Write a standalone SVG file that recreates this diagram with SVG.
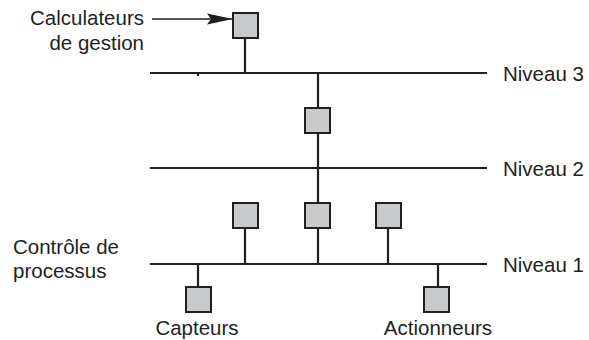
<svg xmlns="http://www.w3.org/2000/svg" width="589" height="340" viewBox="0 0 589 340">
  <style>
    .bus { stroke: #231f20; stroke-width: 2.2; fill: none; }
    .stem { stroke: #231f20; stroke-width: 2.2; fill: none; }
    .box { fill: #c8c9ca; stroke: #231f20; stroke-width: 2; }
    .lbl { font-family: "Liberation Sans", Arial, sans-serif; font-size: 20.5px; fill: #231f20; }
  </style>
  <defs>
    <marker id="arrow" markerWidth="26" markerHeight="12" refX="25" refY="6" orient="auto" markerUnits="userSpaceOnUse">
      <path d="M0,0.5 L26,6 L0,11.5 L4,6 Z" fill="#231f20"/>
    </marker>
  </defs>

  <!-- Network buses and vertical links -->
  <g id="connectors">
    <line class="bus" x1="150" y1="73" x2="487" y2="73"/>
    <line class="bus" x1="150" y1="168" x2="487" y2="168"/>
    <line class="bus" x1="150" y1="264" x2="487" y2="264"/>
    <line class="stem" x1="198" y1="73" x2="198" y2="76"/>
    <!-- main vertical trunk -->
    <line class="stem" x1="318" y1="73" x2="318" y2="264"/>
    <!-- top computer stem -->
    <line class="stem" x1="245" y1="38" x2="245" y2="73"/>
    <!-- level 1 stations -->
    <line class="stem" x1="245" y1="228" x2="245" y2="264"/>
    <line class="stem" x1="388" y1="228" x2="388" y2="264"/>
    <line class="stem" x1="198" y1="264" x2="198" y2="287"/>
    <line class="stem" x1="438" y1="264" x2="438" y2="287"/>
    <!-- annotation arrow -->
    <line x1="152" y1="19" x2="232" y2="19" stroke="#231f20" stroke-width="1.6" marker-end="url(#arrow)"/>
  </g>

  <!-- Stations -->
  <g id="calc-gestion"><rect class="box" x="233" y="13" width="25" height="25"/></g>
  <g id="passerelle-3-2"><rect class="box" x="305" y="108" width="25" height="25"/></g>
  <g id="passerelle-2-1"><rect class="box" x="305" y="203" width="25" height="25"/></g>
  <g id="station-g"><rect class="box" x="233" y="203" width="25" height="25"/></g>
  <g id="station-d"><rect class="box" x="376" y="203" width="25" height="25"/></g>
  <g id="capteur"><rect class="box" x="186" y="287" width="25" height="25"/></g>
  <g id="actionneur"><rect class="box" x="424" y="287" width="25" height="25"/></g>

  <!-- Labels -->
  <g id="labels">
    <text class="lbl" x="144" y="25" text-anchor="end">Calculateurs</text>
    <text class="lbl" x="144" y="50" text-anchor="end">de gestion</text>
    <text class="lbl" x="13" y="254">Contrôle de</text>
    <text class="lbl" x="13" y="278">processus</text>
    <text class="lbl" x="503" y="81">Niveau 3</text>
    <text class="lbl" x="503" y="176">Niveau 2</text>
    <text class="lbl" x="503" y="272">Niveau 1</text>
    <text class="lbl" x="197" y="335" text-anchor="middle">Capteurs</text>
    <text class="lbl" x="438" y="335" text-anchor="middle">Actionneurs</text>
  </g>
</svg>
